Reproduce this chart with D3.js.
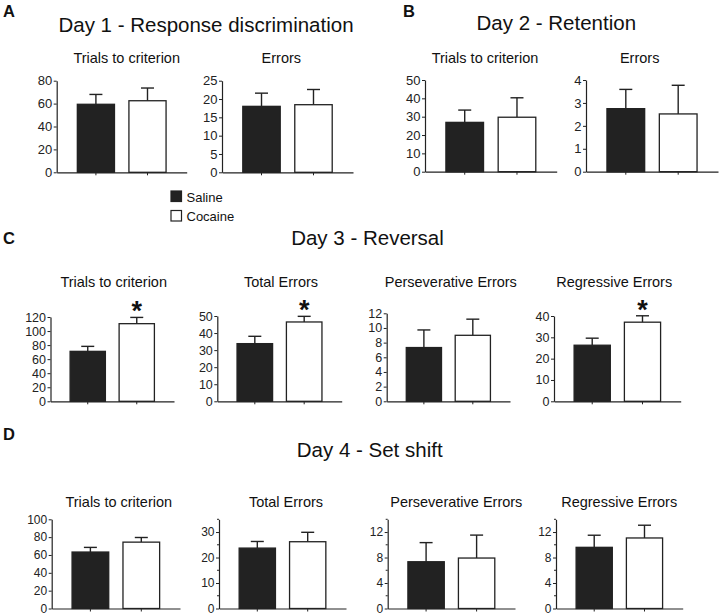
<!DOCTYPE html>
<html>
<head>
<meta charset="utf-8">
<script src="https://cdn.jsdelivr.net/npm/d3@7"></script>
<style>
  html, body { margin: 0; padding: 0; background: #fff; }
  svg { display: block; font-family: "Liberation Sans", Arial, Helvetica, sans-serif; }
</style>
</head>
<body>
<svg id="chart" width="720" height="615"></svg>
<script>
// ---------------- DATA ----------------
const groups = ["Saline", "Cocaine"];
const panelLetters = ["A", "B", "C", "D"];
const dayTitles = ["Day 1 - Response discrimination", "Day 2 - Retention", "Day 3 - Reversal", "Day 4 - Set shift"];
const measureTitles = [
  "Trials to criterion", "Errors",
  "Trials to criterion", "Errors",
  "Trials to criterion", "Total Errors", "Perseverative Errors", "Regressive Errors",
  "Trials to criterion", "Total Errors", "Perseverative Errors", "Regressive Errors"
];
const salineMeans   = [59.4, 18.0, 26.9, 2.75, 71.1, 33.8, 7.33, 26.3, 63.3, 23.7, 7.34, 9.6];
const cocaineMeans  = [62.5, 18.45, 29.7, 2.52, 110.5, 46.5, 9.0, 37.1, 74.4, 26.2, 7.92, 11.07];
const salineSem     = [8.6, 3.6, 6.7, 0.84, 7.1, 4.3, 2.4, 3.3, 5.2, 2.6, 3.0, 1.9];
const cocaineSem    = [11.1, 4.15, 10.6, 1.25, 8.9, 3.3, 2.2, 3.0, 5.2, 3.7, 3.6, 2.0];
const yMax          = [80, 25, 50, 4, 120, 50, 12, 40, 100, 35, 14, 14];
const tickStep      = [20, 5, 10, 1, 20, 10, 2, 10, 20, 10, 4, 4];
const minorStep     = [0, 0, 0, 0, 0, 0, 0, 0, 0, 5, 2, 2];
const significant   = [false, false, false, false, true, true, false, true, false, false, false, false];

// ---------------- LAYOUT ----------------
const layout = [
  {x0: 56.7, x1: 186.7, top: 80.7, bot: 172.3, tx: 126.7, ty: 63.3, fs: 13},
  {x0: 222,  x1: 353,   top: 80.7, bot: 172.3, tx: 281.3, ty: 63.3, fs: 13},
  {x0: 425,  x1: 556.7, top: 80,   bot: 171.7, tx: 485,   ty: 62.7, fs: 13},
  {x0: 586,  x1: 718,   top: 80,   bot: 171.7, tx: 639.7, ty: 62.7, fs: 13},
  {x0: 50.5, x1: 174,   top: 317,  bot: 401.3, tx: 113.7, ty: 286.5, fs: 12.5},
  {x0: 217.3,x1: 341.7, top: 316,  bot: 401.3, tx: 281,   ty: 286.5, fs: 12.5},
  {x0: 386.7,x1: 510,   top: 313.3,bot: 401.3, tx: 450.8, ty: 286.5, fs: 12.5},
  {x0: 554,  x1: 680.7, top: 316,  bot: 401.3, tx: 614.2, ty: 286.5, fs: 12.5},
  {x0: 51.7, x1: 180,   top: 519.3,bot: 608.5, tx: 118.8, ty: 507, fs: 12},
  {x0: 219,  x1: 346,   top: 519.3,bot: 608.5, tx: 286,   ty: 507, fs: 12},
  {x0: 387.7,x1: 515,   top: 519.3,bot: 608.5, tx: 456.3, ty: 507, fs: 12},
  {x0: 556,  x1: 682.7, top: 519.3,bot: 608.5, tx: 619.2, ty: 507, fs: 12}
];
const letterPos = [{x: 3, y: 16.7}, {x: 403, y: 16.7}, {x: 3, y: 244}, {x: 3, y: 440}];
const titlePos  = [{x: 206, y: 31.7}, {x: 556.3, y: 30}, {x: 367.5, y: 245}, {x: 369.7, y: 456.5}];

const ink = "#222";
const svg = d3.select("#chart");

// panel letters and day titles
panelLetters.forEach((L, i) => {
  svg.append("text").attr("x", letterPos[i].x).attr("y", letterPos[i].y)
    .attr("font-size", 16.5).attr("font-weight", "bold").attr("fill", "#111").text(L);
  svg.append("text").attr("x", titlePos[i].x).attr("y", titlePos[i].y)
    .attr("text-anchor", "middle").attr("font-size", 20.5).attr("fill", "#111").text(dayTitles[i]);
});

// subplots
measureTitles.forEach((title, i) => {
  const L = layout[i];
  const g = svg.append("g");
  const y = d3.scaleLinear().domain([0, yMax[i]]).range([L.bot, L.top]);
  const x = d3.scaleBand().domain(groups).range([L.x0, L.x1]).paddingInner(0.28).paddingOuter(0.4);
  const vals = [salineMeans[i], cocaineMeans[i]];
  const sems = [salineSem[i], cocaineSem[i]];
  const rows = groups.map((gname, k) => ({g: gname, v: vals[k], e: sems[k]}));

  // subtitle
  g.append("text").attr("x", L.tx).attr("y", L.ty).attr("text-anchor", "middle")
    .attr("font-size", 14.5).attr("fill", "#111").text(title);

  // error bars (drawn first so bar covers lower part)
  rows.forEach(r => {
    const cx = x(r.g) + x.bandwidth() / 2;
    g.append("line").attr("x1", cx).attr("x2", cx).attr("y1", y(r.v)).attr("y2", y(r.v + r.e))
      .attr("stroke", ink).attr("stroke-width", 1.4);
    g.append("line").attr("x1", cx - 6.5).attr("x2", cx + 6.5).attr("y1", y(r.v + r.e)).attr("y2", y(r.v + r.e))
      .attr("stroke", ink).attr("stroke-width", 1.4);
  });

  // bars
  g.selectAll("rect.bar").data(rows).join("rect").attr("class", "bar")
    .attr("x", d => x(d.g)).attr("width", x.bandwidth())
    .attr("y", d => y(d.v)).attr("height", d => y(0) - y(d.v))
    .attr("fill", (d, k) => k === 0 ? ink : "#fff")
    .attr("stroke", ink).attr("stroke-width", 1.3);

  // minor ticks
  if (minorStep[i] > 0) {
    const minors = d3.range(0, yMax[i] + 1e-9, minorStep[i]).filter(v => Math.abs(v / tickStep[i] - Math.round(v / tickStep[i])) > 1e-6);
    g.selectAll("line.minor").data(minors).join("line").attr("class", "minor")
      .attr("x1", L.x0 - 2).attr("x2", L.x0).attr("y1", d => y(d)).attr("y2", d => y(d))
      .attr("stroke", ink).attr("stroke-width", 1);
  }

  // y axis
  const yAxis = d3.axisLeft(y).tickValues(d3.range(0, yMax[i] + 1e-9, tickStep[i]))
    .tickSize(3).tickSizeOuter(0).tickPadding(1.5).tickFormat(d3.format("d"));
  const ya = g.append("g").attr("transform", `translate(${L.x0},0)`).call(yAxis);
  ya.select(".domain").attr("stroke", ink).attr("stroke-width", 1.2);
  ya.selectAll(".tick line").attr("stroke", ink).attr("stroke-width", 1);
  ya.selectAll(".tick text").attr("fill", "#222").attr("font-size", L.fs)
    .attr("font-family", '"Liberation Sans", Arial, sans-serif');

  // x axis
  const xAxis = d3.axisBottom(x).tickSize(3).tickSizeOuter(0).tickFormat("");
  const xa = g.append("g").attr("transform", `translate(0,${L.bot})`).call(xAxis);
  xa.select(".domain").attr("stroke", ink).attr("stroke-width", 1.2);
  xa.selectAll(".tick line").attr("stroke", ink).attr("stroke-width", 1);

  // significance asterisk
  if (significant[i]) {
    const cx = x(groups[1]) + x.bandwidth() / 2;
    g.append("text").attr("x", cx).attr("y", y(cocaineMeans[i] + cocaineSem[i]) + 3)
      .attr("text-anchor", "middle").attr("font-size", 27).attr("font-weight", "bold")
      .attr("fill", "#111").text("*");
  }
});

// legend
const legendItems = groups.map((gname, k) => ({g: gname, fill: k === 0 ? ink : "#fff", y: 191 + k * 19.5}));
const leg = svg.append("g");
leg.selectAll("rect").data(legendItems).join("rect")
  .attr("x", 171).attr("y", d => d.y).attr("width", 10.5).attr("height", 10.5)
  .attr("fill", d => d.fill).attr("stroke", ink).attr("stroke-width", 1.2);
leg.selectAll("text").data(legendItems).join("text")
  .attr("x", 186.5).attr("y", d => d.y + 10.5).attr("font-size", 13).attr("fill", "#111")
  .text(d => d.g);
</script>
</body>
</html>
